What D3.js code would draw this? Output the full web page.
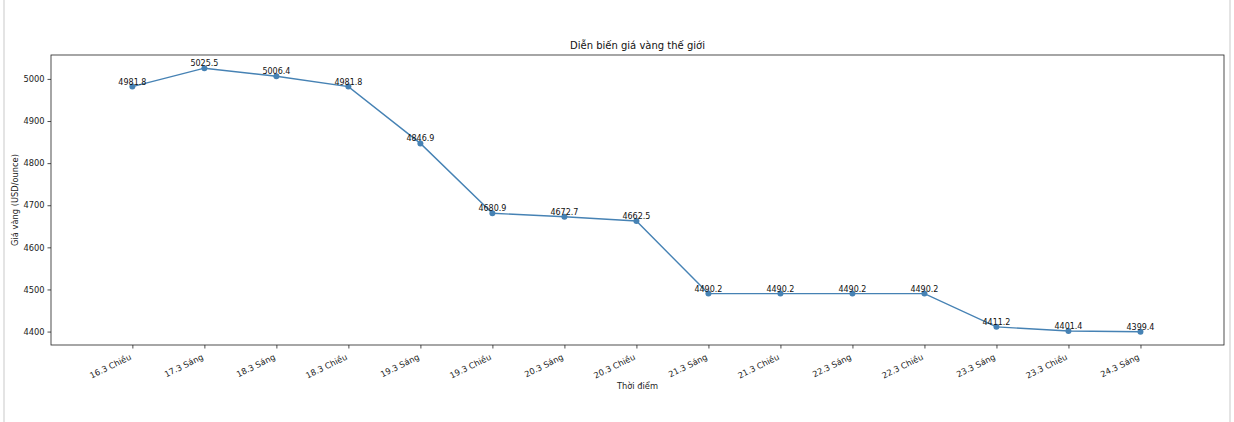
<!DOCTYPE html>
<html><head><meta charset="utf-8">
<script src="https://cdn.jsdelivr.net/npm/d3@7"></script>
<style>
html,body{margin:0;padding:0;background:#fff;}
svg{display:block;font-family:"DejaVu Sans",sans-serif;}
</style></head>
<body>
<svg id="chart" width="1234" height="422"></svg>
<script>
const categories = ["16.3 Chiều","17.3 Sáng","18.3 Sáng","18.3 Chiều","19.3 Sáng","19.3 Chiều","20.3 Sáng","20.3 Chiều","21.3 Sáng","21.3 Chiều","22.3 Sáng","22.3 Chiều","23.3 Sáng","23.3 Chiều","24.3 Sáng"];
const prices = [4981.8,5025.5,5006.4,4981.8,4846.9,4680.9,4672.7,4662.5,4490.2,4490.2,4490.2,4490.2,4411.2,4401.4,4399.4];
const yTicks = [4400,4500,4600,4700,4800,4900,5000];
const title = "Diễn biến giá vàng thế giới";
const xTitle = "Thời điểm";
const yTitle = "Giá vàng (USD/ounce)";

const svg = d3.select("#chart");
const L = 51, R = 1224, T = 55, B = 345;

// outer frame lines
svg.append("rect").attr("x",3).attr("y",0).attr("width",2).attr("height",422).attr("fill","#e4e4e4");
svg.append("rect").attr("x",1229).attr("y",0).attr("width",2).attr("height",422).attr("fill","#e4e4e4");

const n = categories.length;
const x = d3.scaleLinear().domain([-1.13, n - 1 + 1.16]).range([L, R]);
const yMin = d3.min(prices), yMax = d3.max(prices), pad = (yMax - yMin) * 0.05;
const y = d3.scaleLinear().domain([yMin - pad, yMax + pad]).range([B, T]);

// y axis
const yAxis = svg.append("g").attr("transform", `translate(${L},0)`)
  .call(d3.axisLeft(y).tickValues(yTicks).tickSize(3.5).tickPadding(3).tickFormat(d3.format("d")));
yAxis.select(".domain").remove();
yAxis.selectAll("line").attr("stroke","#222").attr("stroke-width",0.8);
yAxis.selectAll("text").attr("font-size","8.3px").attr("fill","#222").attr("font-family","DejaVu Sans");

// x axis
const xAxis = svg.append("g").attr("transform", `translate(0,${B})`)
  .call(d3.axisBottom(x).tickValues(d3.range(n)).tickSize(3.5).tickFormat(i => categories[i]));
xAxis.select(".domain").remove();
xAxis.selectAll("line").attr("stroke","#222").attr("stroke-width",0.8);
xAxis.selectAll("text")
  .attr("font-size","8.3px").attr("fill","#222").attr("font-family","DejaVu Sans")
  .attr("text-anchor","end").attr("dy",null).attr("y",null)
  .attr("transform","translate(-1,14) rotate(-26)");

// frame
svg.append("rect").attr("x",L).attr("y",T).attr("width",R-L).attr("height",B-T)
  .attr("fill","none").attr("stroke","#222").attr("stroke-width",0.8);

// line
const line = d3.line().x((d,i)=>x(i)).y(d=>y(d));
svg.append("path").datum(prices).attr("d",line).attr("fill","none")
  .attr("stroke","#4682b4").attr("stroke-width",1.4);
svg.selectAll("circle.pt").data(prices).join("circle").attr("class","pt")
  .attr("cx",(d,i)=>x(i)).attr("cy",d=>y(d)).attr("r",3).attr("fill","#4682b4");

// annotations
svg.selectAll("text.ann").data(prices).join("text").attr("class","ann")
  .attr("x",(d,i)=>x(i)).attr("y",d=>y(d)-2)
  .attr("text-anchor","middle").attr("font-size","8px").attr("fill","#111")
  .text(d=>d.toFixed(1));

// titles
svg.append("text").attr("x",(L+R)/2).attr("y",49).attr("text-anchor","middle")
  .attr("font-size","10px").attr("fill","#111").text(title);
svg.append("text").attr("x",(L+R)/2).attr("y",389).attr("text-anchor","middle")
  .attr("font-size","8.3px").attr("fill","#222").text(xTitle);
svg.append("text").attr("transform",`translate(18,${(T+B)/2}) rotate(-90)`).attr("text-anchor","middle")
  .attr("font-size","8.3px").attr("fill","#222").text(yTitle);
</script>
</body></html>
